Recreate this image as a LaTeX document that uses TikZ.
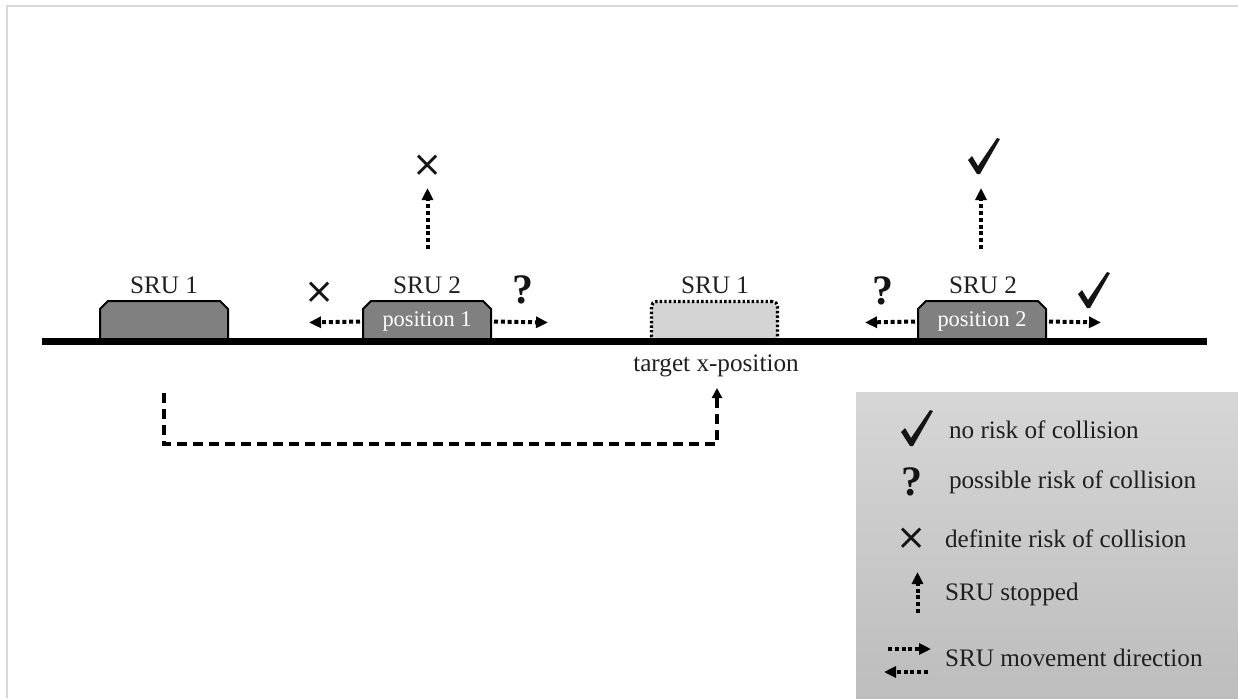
\documentclass[tikz,border=0pt]{standalone}
\usepackage{fontspec}
\setmainfont{Liberation Serif}
\newfontfamily\symfont{DejaVu Sans}
\usetikzlibrary{arrows.meta}

\newcommand\srubox[3]{% name, centre x, text
  \filldraw[srufill] (#2-64,342) -- (#2-64,309) -- (#2-56,301) -- (#2+56,301) -- (#2+64,309) -- (#2+64,342) -- cycle;
  \node[srutext] (#1) at (#2,321.5) {#3};}

\begin{document}
\begin{tikzpicture}[x=0.5pt,y=-0.5pt,
  every node/.style={inner sep=0pt, outer sep=0pt},
  lbl/.style={font=\fontsize{12.6}{15}\selectfont, text=black!88},
  srufill/.style={draw=black, line width=1pt, line join=round, fill=black!50},
  srutext/.style={minimum width=64pt, minimum height=20.5pt, text=white, font=\fontsize{11.2}{13}\selectfont},
  ghost/.style={draw=black, line width=1.6pt, dash pattern=on 1.2pt off 1.1pt, fill=black!17, rounded corners=2.5pt, minimum width=63pt, minimum height=20pt},
  dotarrow/.style={line width=2pt, dash pattern=on 2pt off 1.4pt, -{Triangle[length=6pt,width=5.5pt]}},
  dasharrow/.style={line width=1.8pt, dash pattern=on 5pt off 3pt, -{Triangle[length=5pt,width=5pt]}},
  qmark/.style={font=\fontsize{21}{21}\selectfont\bfseries, text=black!92},
  xmark/.style={font=\symfont\fontsize{18}{18}\selectfont, text=black!92},
  chk/.pic={\fill[black!92, line join=round] (-16,4) -- (-12,0) -- (-6,10) -- (13,-18) -- (16,-17) -- (-4,18) -- (-7,18) -- cycle;}
]
\useasboundingbox (0,0) rectangle (1238,698);
% frame
\draw[black!15, line width=1pt] (7,698) -- (7,6) -- (1238,6);

% legend panel
\fill[top color=black!16, bottom color=black!26] (856,392) rectangle (1238,698);

% SRU boxes
\srubox{s1}{164}{}
\srubox{p1}{427}{position 1}
\srubox{p2}{982}{position 2}
\node[ghost] (t1) at (714.5,321.5) {};

% ground line
\draw[line width=3.5pt] (42,341.5) -- (1207,341.5);

% labels
\node[lbl] (l1) at (164,285) {SRU 1};
\node[lbl] (l2) at (427,285) {SRU 2};
\node[lbl] (l3) at (715,285) {SRU 1};
\node[lbl] (l4) at (983,285) {SRU 2};
\node[lbl] (tx) at (716,366) {target x-position};

% movement arrows at position 1
\coordinate (p1l) at (309,322.5);
\coordinate (p1r) at (548,322.5);
\draw[dotarrow] (p1.west) ++(-3,0) -- (p1l);
\draw[dotarrow] (p1.east) ++(3,0) -- (p1r);
\node[xmark] (x1) at (320,293) {×};
\node[qmark] (q1) at (523,290) {?};
% stopped arrow at position 1
\coordinate (u1a) at (427.5,249);
\coordinate (u1b) at (427.5,188);
\draw[dotarrow] (u1a) -- (u1b);
\node[xmark] (x2) at (428,166) {×};

% movement arrows at position 2
\coordinate (p2l) at (865,322.5);
\coordinate (p2r) at (1101,322.5);
\draw[dotarrow] (p2.west) ++(-3,0) -- (p2l);
\draw[dotarrow] (p2.east) ++(3,0) -- (p2r);
\node[qmark] (q2) at (883,291) {?};
\pic at (1094,290) {chk};
% stopped arrow at position 2
\coordinate (u2a) at (981,249);
\coordinate (u2b) at (981,188);
\draw[dotarrow] (u2a) -- (u2b);
\pic at (984,156) {chk};

% dashed path from SRU 1 to target
\coordinate (d0) at (164,393);
\coordinate (d1) at (164,444);
\coordinate (d2) at (717,444);
\coordinate (d3) at (717,388);
\draw[dasharrow] (d0) -- (d1) -- (d2) -- (d3);

% legend
\pic at (917,428) {chk};
\node[lbl, anchor=west] (g1) at (949,430) {no risk of collision};
\node[qmark] (gq) at (912,482) {?};
\node[lbl, anchor=west] (g2) at (949,482) {possible risk of collision};
\node[xmark] (gx) at (912,539) {×};
\node[lbl, anchor=west] (g3) at (945,539) {definite risk of collision};
\coordinate (gu0) at (917.5,613);
\coordinate (gu1) at (917.5,572);
\draw[dotarrow] (gu0) -- (gu1);
\node[lbl, anchor=west] (g4) at (945,594) {SRU stopped};
\coordinate (gr0) at (888,649);
\coordinate (gr1) at (931,649);
\draw[dotarrow] (gr0) -- (gr1);
\coordinate (gl0) at (928,672);
\coordinate (gl1) at (884,672);
\draw[dotarrow] (gl0) -- (gl1);
\node[lbl, anchor=west] (g5) at (945,658) {SRU movement direction};
\end{tikzpicture}
\end{document}
